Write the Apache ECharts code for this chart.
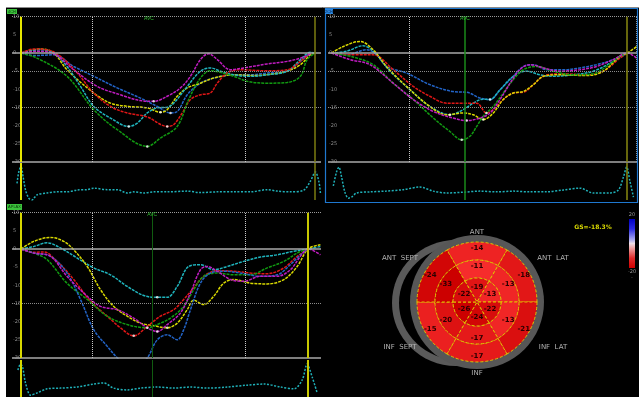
<!DOCTYPE html>
<html>
<head>
<meta charset="utf-8">
<script src="https://cdn.jsdelivr.net/npm/echarts@6/dist/echarts.min.js"></script>
<style>
html,body{margin:0;padding:0;background:#000;}
#chart{width:639px;height:397px;}
</style>
</head>
<body>
<div id="chart"></div>
<script>
// ---- strain axis ticks (%) ----
const strainTicks = [10, 5, 0, -5, -10, -15, -20, -25, -30];

// ---- segment strain curves: [time ms, strain %] ----
// four-chamber view
const fcYellow = [[0,0],[66,1.1],[111,0],[156,-4.6],[247,-11.0],[304,-13.8],[366,-14.7],[429,-15.1],[474,-16.3],[497,-15.6],[531,-11.9],[565,-9.6],[610,-8.3],[655,-6.9],[723,-6.0],[792,-6.2],[860,-5.7],[905,-5.0],[950,-3.2],[984,-0.5],[1001,0]];
const fcCyan = [[0,0],[66,0.9],[111,0],[156,-3.7],[202,-9.2],[247,-14.7],[304,-17.9],[366,-20.2],[395,-19.3],[429,-16.5],[463,-15.1],[497,-14.9],[519,-13.8],[565,-9.2],[610,-5.0],[644,-4.1],[678,-5.0],[723,-6.0],[780,-6.4],[837,-6.0],[905,-5.0],[950,-1.8],[984,0.2],[1001,0]];
const fcRed = [[0,0],[43,1.1],[88,0.9],[134,-0.9],[191,-5.5],[247,-11.0],[304,-14.7],[361,-16.5],[429,-17.6],[497,-20.2],[519,-19.7],[548,-16.5],[576,-12.8],[610,-11.5],[644,-11.0],[667,-8.3],[701,-5.5],[746,-4.6],[837,-4.9],[905,-4.6],[950,-2.3],[984,0]];
const fcGreen = [[0,0],[54,-1.4],[156,-6.4],[247,-15.6],[327,-21.1],[429,-25.7],[474,-23.4],[531,-20.2],[570,-12.8],[610,-6.9],[644,-4.9],[723,-6.4],[769,-7.8],[837,-8.3],[905,-8.1],[950,-6.4],[973,-1.8],[1001,0]];
const fcBlue = [[0,0],[43,-0.7],[111,-0.5],[179,-3.7],[247,-6.4],[327,-9.6],[406,-12.4],[463,-14.7],[508,-16.5],[531,-16.1],[565,-11.5],[610,-8.3],[655,-6.9],[723,-6.0],[780,-6.0],[837,-5.5],[905,-5.0],[950,-2.3],[984,0]];
const fcMagenta = [[0,0],[54,0.5],[111,-0.2],[179,-4.6],[259,-9.2],[338,-11.5],[406,-13.1],[451,-13.3],[497,-11.9],[542,-9.6],[576,-6.4],[610,-1.8],[638,-0.2],[667,-1.8],[712,-4.6],[757,-4.1],[837,-3.0],[905,-2.3],[950,-1.4],[984,-0.2]];

// two-chamber view
const tcYellow = [[0,0],[40,1.8],[96,3.2],[141,0.9],[186,-3.7],[254,-9.2],[333,-14.7],[390,-17.0],[446,-16.5],[480,-17.0],[514,-18.3],[548,-16.5],[582,-12.8],[616,-11.0],[650,-10.6],[684,-8.7],[718,-6.4],[774,-6.0],[864,-6.2],[921,-5.0],[977,-0.9],[1002,0],[1034,1.8]];
const tcCyan = [[0,0],[51,0.5],[107,2.0],[147,0],[198,-5.0],[266,-10.1],[333,-14.7],[401,-17.0],[446,-15.6],[480,-13.8],[514,-12.7],[537,-12.8],[571,-10.1],[616,-6.4],[661,-5.0],[706,-6.0],[751,-6.4],[819,-6.0],[887,-5.0],[955,-2.3],[1002,0]];
const tcRed = [[0,0],[73,-0.5],[141,-0.5],[209,-4.6],[277,-9.2],[333,-11.9],[390,-13.8],[446,-13.8],[492,-13.8],[525,-16.5],[548,-15.6],[582,-12.8],[616,-11.0],[650,-10.8],[684,-8.7],[718,-6.4],[774,-5.7],[864,-6.0],[921,-5.0],[977,-1.4],[1002,0]];
const tcGreen = [[0,0],[73,-1.1],[141,-3.2],[209,-8.3],[277,-12.8],[345,-17.9],[401,-21.6],[441,-23.9],[469,-22.9],[492,-20.2],[514,-17.4],[548,-14.7],[582,-11.0],[616,-7.3],[650,-4.6],[695,-3.7],[751,-5.0],[819,-6.0],[887,-5.7],[932,-3.7],[977,-0.9],[1002,0]];
const tcBlue = [[0,0],[51,-0.5],[119,0.9],[153,-0.5],[186,-3.7],[254,-5.5],[333,-8.7],[412,-10.6],[458,-10.8],[503,-12.4],[537,-12.8],[571,-10.1],[616,-6.4],[650,-3.7],[684,-3.2],[729,-4.6],[785,-4.6],[842,-4.1],[898,-3.2],[955,-1.8],[1002,0]];
const tcMagenta = [[0,0],[62,-1.8],[130,-3.2],[209,-8.3],[277,-12.8],[345,-16.1],[412,-17.9],[458,-18.6],[503,-17.9],[537,-16.5],[571,-12.8],[605,-8.3],[638,-4.6],[672,-3.2],[718,-4.1],[774,-5.0],[842,-4.6],[898,-3.7],[955,-1.8],[1002,0],[1034,-1.4]];

// apical long-axis view
const alYellow = [[0,0],[43,2.1],[100,3.2],[145,2.1],[179,-0.2],[225,-4.8],[270,-11.2],[315,-15.8],[361,-18.5],[406,-20.4],[451,-21.1],[497,-21.7],[531,-20.4],[565,-16.7],[587,-14.1],[621,-15.3],[655,-13.0],[689,-9.4],[723,-8.4],[780,-9.4],[837,-9.6],[894,-8.4],[939,-4.8],[976,0],[1018,1.2]];
const alCyan = [[0,0],[43,0.7],[88,1.7],[134,0.3],[191,-2.5],[247,-5.2],[304,-7.1],[361,-10.3],[417,-12.8],[463,-13.3],[497,-13.3],[531,-10.3],[570,-4.8],[610,-4.3],[655,-5.7],[701,-4.8],[757,-3.4],[814,-2.2],[871,-1.6],[928,-0.6],[976,0],[1018,0.7]];
const alRed = [[0,0],[43,-0.9],[77,-0.8],[122,-3.4],[179,-8.4],[236,-14.4],[293,-18.5],[338,-21.7],[383,-23.9],[429,-21.3],[474,-18.5],[519,-16.7],[553,-13.9],[587,-10.7],[621,-7.5],[667,-6.0],[723,-6.1],[780,-6.6],[837,-6.8],[894,-5.2],[939,-2.0],[976,0]];
const alGreen = [[0,0],[43,-1.1],[88,-2.9],[156,-9.4],[225,-13.9],[293,-18.5],[361,-20.8],[429,-21.7],[463,-20.8],[508,-19.0],[553,-15.8],[587,-11.2],[621,-7.5],[667,-6.6],[723,-7.1],[780,-7.1],[837,-5.2],[894,-3.4],[939,-1.1],[976,0]];
const alBlue = [[0,0],[43,-1.1],[100,-2.0],[156,-6.6],[202,-13.9],[247,-22.2],[293,-26.8],[332,-30.3],[378,-32.8],[426,-30.3],[463,-25.0],[497,-23.6],[531,-25.0],[553,-22.2],[576,-16.7],[610,-9.4],[644,-6.6],[689,-6.1],[746,-6.6],[814,-7.5],[871,-7.1],[916,-4.3],[950,-1.6],[976,0]];
const alMagenta = [[0,0],[43,-1.1],[100,-2.0],[156,-7.5],[225,-13.0],[270,-15.8],[327,-16.7],[383,-19.0],[429,-21.7],[463,-22.7],[497,-20.8],[542,-17.6],[576,-12.1],[610,-5.7],[633,-4.8],[667,-6.1],[712,-8.4],[757,-8.9],[814,-7.5],[871,-7.5],[916,-5.7],[950,-2.0],[976,0],[1018,-1.6]];

// ---- ECG traces: [time ms, relative amplitude] ----
const fcEcg = [[-14,0.45],[-9,0.72],[-4,0.86],[0,0.89],[7,0.62],[15,0.27],[26,0.05],[37,0.0],[54,0.14],[88,0.19],[122,0.22],[156,0.22],[191,0.27],[225,0.28],[247,0.32],[293,0.28],[327,0.28],[361,0.19],[383,0.22],[417,0.19],[451,0.22],[497,0.22],[565,0.24],[610,0.20],[667,0.22],[723,0.22],[780,0.22],[837,0.28],[871,0.24],[916,0.22],[962,0.27],[984,0.51],[1001,0.76],[1013,0.49],[1018,0.19]];
const tcEcg = [[6,0.38],[17,0.76],[25,0.89],[34,0.62],[45,0.22],[57,0.05],[68,0.08],[85,0.19],[130,0.22],[186,0.24],[243,0.28],[299,0.35],[345,0.24],[390,0.19],[446,0.21],[503,0.24],[559,0.22],[616,0.24],[672,0.22],[729,0.22],[785,0.27],[842,0.32],[887,0.19],[944,0.19],[972,0.27],[989,0.62],[1000,0.89],[1011,0.51],[1023,0.08]];
const alEcg = [[-11,0.73],[-2,0.89],[5,0.81],[15,0.38],[32,0.05],[54,0.11],[88,0.22],[134,0.24],[191,0.27],[247,0.35],[281,0.38],[315,0.24],[361,0.19],[406,0.24],[463,0.27],[519,0.24],[576,0.27],[633,0.24],[701,0.27],[769,0.32],[826,0.35],[882,0.27],[928,0.22],[956,0.46],[973,0.89],[990,0.54],[1007,0.11]];

// ---- timing events (ms) ----
const fcEvents = { start: 0, marks: [241, 762], avc: 435, end: 1000 };
const tcEvents = { marks: [262], avc: 452, end: 1001 };
const alEvents = { start: 0, marks: [241, 762], avc: 446, end: 976 };

// ---- bull's eye (18 segments) ----
const segmentNames = ['ANT', 'ANT LAT', 'INF LAT', 'INF', 'INF SEPT', 'ANT SEPT'];
const basalStrain = [-14, -18, -21, -17, -15, -24];
const midStrain = [-11, -13, -13, -17, -20, -33];
const apicalStrain = [-19, -13, -22, -24, -26, -22];
const globalStrain = -18.3;
const scaleLimits = [20, -20];

const COLORS = { yellow:'#d8d800', cyan:'#1fb4bd', red:'#e01616', green:'#119a11', blue:'#2264c8', magenta:'#c01cc0' };

function strainColor(v) {
  // darker red for stronger shortening
  const t = Math.max(0, Math.min(1, (v + 26) / 15));
  const a = [204, 0, 0], b = [246, 44, 44];
  const c = a.map((x, i) => Math.round(x + (b[i] - x) * t));
  return 'rgb(' + c.join(',') + ')';
}

const chart = echarts.init(document.getElementById('chart'), null, { renderer: 'canvas' });

const grids = [
  { left: 12, top: 16.7, width: 309, height: 145.3 },
  { left: 12, top: 163, width: 309, height: 37 },
  { left: 328, top: 16.7, width: 309, height: 145.3 },
  { left: 328, top: 163, width: 309, height: 37 },
  { left: 12, top: 212.7, width: 309, height: 145.3 },
  { left: 12, top: 360, width: 309, height: 37 }
];
const xRanges = [[-31, 1020], [-31, 1020], [-12, 1035], [-12, 1035], [-31, 1020], [-31, 1020]];

const xAxes = grids.map((g, i) => ({
  gridIndex: i, type: 'value', min: xRanges[i][0], max: xRanges[i][1], show: false
}));
const yAxes = grids.map((g, i) => i % 2 === 0 ? ({
  gridIndex: i, type: 'value', min: strainTicks[strainTicks.length - 1], max: strainTicks[0], interval: 5,
  axisLine: { show: false }, axisTick: { show: false }, splitLine: { show: false },
  axisLabel: { inside: true, margin: 1, fontSize: 5, color: '#8c8c8c', fontFamily: 'DejaVu Sans' }
}) : ({
  gridIndex: i, type: 'value', min: 0, max: 1, show: false
}));

function hLine(v, color, width, type) {
  return { yAxis: v, lineStyle: { color: color, width: width, type: type } };
}
function vLine(t, color, width, type, label) {
  const d = { xAxis: t, lineStyle: { color: color, width: width, type: type } };
  if (label) {
    d.label = { show: true, position: 'end', formatter: label, color: '#2fb62f', fontSize: 5, distance: -4 };
  }
  return d;
}

function curve(data, color, gi) {
  return {
    type: 'line', xAxisIndex: gi, yAxisIndex: gi, data: data, smooth: 0.35,
    symbol: 'none', silent: true, animation: false, z: 3,
    lineStyle: { color: color, width: 1.5, type: [3, 1] }
  };
}

function strainPanel(curves, gi, lines) {
  const out = curves.map(c => curve(c[0], c[1], gi));
  out[0].markLine = { silent: true, symbol: 'none', animation: false, label: { show: false }, data: lines };
  // peak (minimum) marker of each segment
  out.push({
    type: 'scatter', xAxisIndex: gi, yAxisIndex: gi, silent: true, animation: false, z: 4,
    symbolSize: 2.5, itemStyle: { color: '#ffffff' },
    data: curves.map(c => c[0].reduce((m, p) => (p[1] < m[1] ? p : m)))
  });
  return out;
}

function ecgPanel(data, gi, lines) {
  return {
    type: 'line', xAxisIndex: gi, yAxisIndex: gi, data: data, smooth: 0.3,
    symbol: 'none', silent: true, animation: false,
    lineStyle: { color: '#1fb0b8', width: 1.5, type: [2, 1.5] },
    markLine: { silent: true, symbol: 'none', animation: false, label: { show: false }, data: lines }
  };
}

const dotted = [1, 1];
const gridLinesFull = [
  hLine(10, '#9a9a9a', 1, dotted), hLine(0, '#a8a8a8', 1.5, 'solid'),
  hLine(-5, '#8a8a8a', 1, dotted), hLine(-15, '#8a8a8a', 1, dotted),
  hLine(-30, '#a8a8a8', 1.5, 'solid')
];
const gridLinesAl = [
  hLine(10, '#9a9a9a', 1, dotted), hLine(0, '#a8a8a8', 1.5, 'solid'),
  hLine(-15, '#8a8a8a', 1, dotted), hLine(-30, '#a8a8a8', 1.5, 'solid')
];

const series = [];
// four-chamber
series.push(...strainPanel([
  [fcBlue, COLORS.blue], [fcYellow, COLORS.yellow], [fcCyan, COLORS.cyan],
  [fcRed, COLORS.red], [fcGreen, COLORS.green], [fcMagenta, COLORS.magenta]
], 0, gridLinesFull.concat([
  vLine(fcEvents.start, '#e6e600', 2, 'solid'),
  vLine(fcEvents.marks[0], '#c8c8c8', 1, dotted), vLine(fcEvents.marks[1], '#c8c8c8', 1, dotted),
  vLine(fcEvents.avc, 'rgba(0,0,0,0)', 1, 'solid', 'AVC'),
  vLine(fcEvents.end, '#7c7c10', 1.5, 'solid')
])));
series.push(ecgPanel(fcEcg, 1, [
  vLine(fcEvents.start, '#e6e600', 2, 'solid'), vLine(fcEvents.end, '#7c7c10', 1.5, 'solid')
]));
// two-chamber
series.push(...strainPanel([
  [tcBlue, COLORS.blue], [tcCyan, COLORS.cyan], [tcRed, COLORS.red],
  [tcYellow, COLORS.yellow], [tcGreen, COLORS.green], [tcMagenta, COLORS.magenta]
], 2, gridLinesFull.concat([
  vLine(tcEvents.marks[0], '#c8c8c8', 1, dotted),
  vLine(tcEvents.avc, '#1a8a1a', 1.5, 'solid', 'AVC'),
  vLine(tcEvents.end, '#8a8a10', 1.5, 'solid'),
  vLine(1033, '#9a9a9a', 1, dotted)
])));
series.push(ecgPanel(tcEcg, 3, [
  vLine(tcEvents.avc, '#1a8a1a', 1.5, 'solid'), vLine(tcEvents.end, '#8a8a10', 1.5, 'solid')
]));
// apical long-axis
series.push(...strainPanel([
  [alCyan, COLORS.cyan], [alYellow, COLORS.yellow], [alRed, COLORS.red],
  [alGreen, COLORS.green], [alBlue, COLORS.blue], [alMagenta, COLORS.magenta]
], 4, gridLinesAl.concat([
  vLine(alEvents.start, '#d8d800', 2, 'solid'),
  vLine(alEvents.marks[0], '#c8c8c8', 1, dotted), vLine(alEvents.marks[1], '#c8c8c8', 1, dotted),
  vLine(alEvents.avc, '#105c10', 1, 'solid', 'AVC'),
  vLine(alEvents.end, '#c8c800', 2, 'solid')
])));
series.push(ecgPanel(alEcg, 5, [
  vLine(alEvents.start, '#d8d800', 2, 'solid'), vLine(alEvents.avc, '#105c10', 1, 'solid'),
  vLine(alEvents.end, '#c8c800', 2, 'solid')
]));

// bull's eye rings
function ring(values, radius) {
  return {
    type: 'pie', center: [477, 302], radius: radius, startAngle: 120, clockwise: true,
    silent: true, animation: false, avoidLabelOverlap: false, z: 5,
    label: {
      show: true, position: 'inside', fontSize: 7, fontWeight: 'bold', color: '#2a0000',
      fontFamily: 'DejaVu Sans', formatter: p => String(p.data.strain)
    },
    labelLine: { show: false },
    itemStyle: { borderColor: '#e0c400', borderWidth: 1, borderType: [3, 2] },
    data: values.map((v, i) => ({
      name: segmentNames[i], value: 1, strain: v, itemStyle: { color: strainColor(v) }
    }))
  };
}
series.push(ring(basalStrain, [42, 60]));
series.push(ring(midStrain, [24, 42]));
series.push(ring(apicalStrain, [0, 24]));

function txt(x, y, s, fill, font, z) {
  return {
    type: 'text', x: x, y: y, z: z || 10, silent: true,
    style: { text: s, fill: fill, font: font, align: 'center', verticalAlign: 'middle',
             textAlign: 'center', textVerticalAlign: 'middle' }
  };
}

const graphic = [
  // page margins
  { type: 'rect', shape: { x: 0, y: 0, width: 639, height: 7 }, style: { fill: '#ffffff' }, z: 50 },
  { type: 'rect', shape: { x: 0, y: 0, width: 6, height: 397 }, style: { fill: '#ffffff' }, z: 50 },
  { type: 'line', shape: { x1: 6, y1: 7.5, x2: 639, y2: 7.5 }, style: { stroke: '#8a8a8a', lineWidth: 1 }, z: 50 },
  // active panel frame
  { type: 'rect', shape: { x: 325.5, y: 8.5, width: 312, height: 194 }, style: { fill: 'none', stroke: '#1f78d0', lineWidth: 1.2 }, z: 40 },
  // view tags
  { type: 'rect', shape: { x: 7, y: 9, width: 10, height: 5 }, style: { fill: '#3cc23c' }, z: 41 },
  txt(12, 11.6, '4CH', '#0c3a0c', '4px sans-serif', 42),
  { type: 'rect', shape: { x: 325, y: 9, width: 8, height: 5 }, style: { fill: '#2a86e0' }, z: 41 },
  txt(329, 11.6, '2CH', '#082a50', '4px sans-serif', 42),
  { type: 'rect', shape: { x: 7, y: 204, width: 15, height: 6 }, style: { fill: '#3cc23c' }, z: 41 },
  txt(14.5, 207, 'APLAX', '#0c3a0c', '4px sans-serif', 42),
  // bull's eye backdrop
  { type: 'ellipse', shape: { cx: 456, cy: 303, rx: 64, ry: 63 }, style: { fill: '#5a5a5a' }, z: 1 },
  { type: 'ellipse', shape: { cx: 459, cy: 303, rx: 60, ry: 57 }, style: { fill: '#000000' }, z: 1 },
  { type: 'circle', shape: { cx: 477, cy: 302, r: 67 }, style: { fill: '#575757' }, z: 1 },
  txt(477, 232, 'ANT', '#b4b4b4', '7px "DejaVu Sans"'),
  txt(400, 258, 'ANT  SEPT', '#b4b4b4', '7px "DejaVu Sans"'),
  txt(553, 258, 'ANT  LAT', '#b4b4b4', '7px "DejaVu Sans"'),
  txt(400, 347, 'INF  SEPT', '#b4b4b4', '7px "DejaVu Sans"'),
  txt(553, 347, 'INF  LAT', '#b4b4b4', '7px "DejaVu Sans"'),
  txt(477, 373, 'INF', '#b4b4b4', '7px "DejaVu Sans"'),
  txt(593, 227, 'GS=' + globalStrain + '%', '#d6d600', 'bold 6px "DejaVu Sans"'),
  // colour scale
  { type: 'rect', shape: { x: 629, y: 219, width: 6, height: 49 }, z: 10,
    style: { fill: new echarts.graphic.LinearGradient(0, 0, 0, 1, [
      { offset: 0, color: '#0000c0' }, { offset: 0.2, color: '#2a2ae0' },
      { offset: 0.42, color: '#a8a8f0' }, { offset: 0.5, color: '#f0e0e8' },
      { offset: 0.6, color: '#f0a0a0' }, { offset: 0.8, color: '#e02a2a' },
      { offset: 1, color: '#d00000' }]) } },
  txt(632, 215, String(scaleLimits[0]), '#9a9a9a', '5px "DejaVu Sans"'),
  txt(632, 272, String(scaleLimits[1]), '#9a9a9a', '5px "DejaVu Sans"'),
  txt(632, 278, '-', '#9a9a9a', '5px "DejaVu Sans"')
];

chart.setOption({
  backgroundColor: '#000000',
  animation: false,
  grid: grids,
  xAxis: xAxes,
  yAxis: yAxes,
  series: series,
  graphic: graphic
});
</script>
</body>
</html>
